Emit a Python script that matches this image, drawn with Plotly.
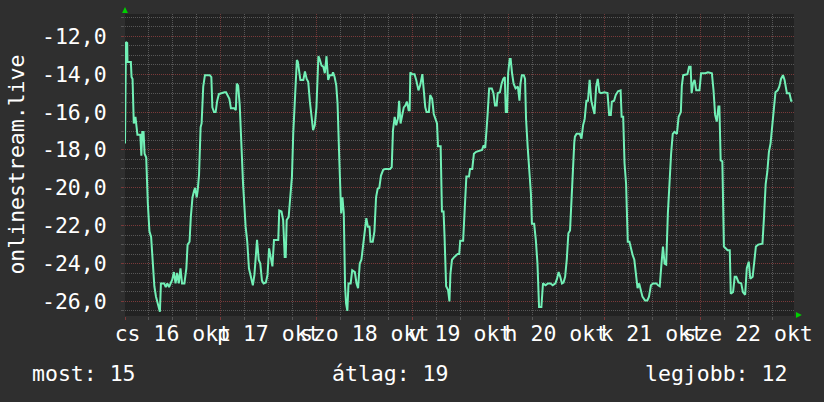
import plotly.graph_objects as go

# ---------------- data ----------------
# hours since 2025-10-16 00:00
hours = [
    0.00, 0.24, 0.55, 0.62, 1.47, 1.64, 1.89, 2.20, 2.62, 2.87, 3.11, 3.84, 4.09, 4.33, 4.65, 4.90,
    5.31, 5.71, 6.12, 6.54, 6.93, 7.35, 7.76, 8.33, 8.74, 8.99, 9.80, 10.21, 10.60, 11.02, 11.44, 11.83,
    12.24, 12.66, 13.05, 13.47, 13.89, 14.28, 14.87, 15.36, 15.67, 16.16, 16.48, 16.90, 17.31, 17.56,
    17.95, 18.20, 18.54, 18.93, 19.18, 19.59, 20.01, 21.23, 21.62, 21.87, 22.29, 22.70, 23.09, 23.51,
    24.91, 25.30, 26.13, 26.52, 27.36, 27.75, 27.99, 28.33, 28.73, 29.14, 29.56, 30.20, 30.61, 31.03,
    31.59, 32.01, 32.40, 32.82, 33.06, 33.48, 33.87, 34.29, 34.70, 35.27, 35.68, 36.07, 36.49, 36.91,
    37.30, 38.38, 38.62, 39.18, 39.60, 39.99, 40.24, 40.48, 40.97, 41.39, 41.80, 42.12, 42.61, 43.03,
    43.27, 43.52, 43.91, 44.65, 45.06, 45.48, 45.87, 46.29, 46.70, 47.09, 47.51, 47.93,
    48.42, 48.73, 49.22, 49.64, 50.03, 50.45, 50.62, 50.87, 51.26, 51.85, 52.09, 52.48, 52.90, 53.22,
    53.63, 54.05, 54.12, 54.44, 54.78, 55.10, 55.35, 55.67, 55.96, 56.50, 56.89, 57.55, 57.97, 58.36,
    58.78, 59.19, 59.58, 60.00, 60.42, 60.81, 61.22, 61.47, 62.03, 62.45, 62.86, 63.26, 63.67, 64.09,
    64.65, 65.14, 66.37, 66.78, 67.10, 67.52, 67.91, 68.33, 68.64, 68.99, 69.38, 69.80, 70.21, 70.60,
    71.02, 71.27, 71.44, 71.83,
    72.49, 72.91, 73.47, 73.89, 74.45, 74.77, 75.18, 75.50, 76.09, 76.41, 76.90, 77.31, 77.71, 78.12,
    78.37, 79.03, 79.35, 79.76, 80.01, 80.40, 80.89, 81.23, 81.48, 81.87, 82.46, 82.85, 83.27, 83.68,
    83.93, 84.66, 84.91, 85.47, 86.13, 86.38, 86.94, 87.36, 87.92, 89.39, 89.80, 90.19, 90.78, 91.17,
    91.84, 92.25, 92.64, 93.06, 93.31, 93.87, 94.29, 94.70, 95.09, 95.34, 95.68, 95.93,
    96.32, 96.56, 96.91, 97.30, 97.79, 98.37, 98.77, 99.01, 99.36, 99.85, 100.16, 100.41, 100.82,
    101.22, 101.63, 101.88, 102.44, 102.86, 103.27, 103.67, 104.25, 104.65, 105.31, 105.87, 106.53,
    107.09, 107.76, 108.17, 108.57, 108.98, 109.40, 109.79, 110.20, 110.62, 111.01, 111.43, 111.84,
    112.17, 112.49, 112.65, 113.07, 113.88, 114.29, 114.69, 115.10, 115.52, 115.91, 116.33, 116.74,
    117.13, 117.55, 117.97, 118.36, 118.78, 119.19,
    120.00, 120.81, 121.22, 121.64, 121.89, 122.45, 122.86, 123.43, 124.09, 124.34, 124.73, 125.07,
    125.46, 125.88, 126.29, 126.69, 127.10, 127.52, 127.91, 128.33, 128.74, 129.14, 129.55, 130.21,
    130.78, 131.19, 131.68, 132.24, 133.05, 133.47, 133.88, 134.27, 134.69, 135.10, 135.50, 135.92,
    136.33, 136.73, 137.14, 137.56, 138.19, 138.61, 139.17, 139.42, 139.76, 140.82, 141.23, 141.62,
    141.87, 142.21, 142.60, 143.02, 143.83,
    144.24, 145.30, 145.96, 146.94, 147.35, 147.75, 148.16, 148.58, 148.82, 149.14, 149.56, 149.95,
    150.44, 150.86, 151.42, 151.67, 152.25, 152.65, 153.06, 153.63, 154.29, 154.70, 155.27, 155.68,
    156.17, 156.56, 157.15, 157.54, 157.96, 158.52, 159.60, 159.99, 160.41, 160.82, 161.22, 161.63,
    162.05, 162.44, 162.86, 163.42, 163.84, 164.25, 164.74, 165.14, 165.72, 166.36, 166.78, 167.10,
]
values = [
    -17.66, -12.30, -12.35, -13.35, -13.35, -14.15, -14.25, -16.60, -16.25, -16.60, -17.20, -17.20, -18.30, -17.05, -17.05, -18.20,
    -18.40, -20.80, -22.30, -22.60, -24.00, -25.20, -25.75, -26.20, -26.55, -25.05, -25.05, -25.25, -25.05, -25.25, -25.05, -24.85,
    -24.45, -25.05, -24.50, -25.05, -24.25, -25.05, -25.05, -24.25, -23.00, -22.85, -21.55, -20.50, -20.15, -20.00,
    -20.50, -20.15, -19.30, -16.80, -16.60, -14.65, -14.05, -14.05, -14.15, -15.75, -16.00, -16.00, -15.40, -15.05,
    -14.95, -14.95, -15.30, -15.80, -15.80, -15.90, -14.50, -14.60, -15.65, -17.85, -19.80, -22.05, -22.85, -24.25,
    -24.70, -25.15, -24.60, -23.30, -22.75, -23.80, -24.00, -24.90, -25.05, -25.00, -24.60, -23.20, -23.75, -24.15,
    -22.75, -22.75, -21.20, -21.25, -21.70, -23.65, -23.65, -21.70, -21.55, -20.20, -19.40, -17.15, -15.20, -13.25,
    -13.35, -13.70, -14.30, -14.30, -13.85, -14.25, -14.40, -15.45, -16.35, -16.95, -16.70, -15.75,
    -13.05, -13.20, -13.55, -13.60, -13.95, -13.05, -13.60, -14.30, -14.05, -14.05, -13.90, -14.15, -14.60, -15.55,
    -18.35, -20.50, -21.35, -20.50, -21.35, -25.20, -26.10, -26.50, -25.05, -25.05, -24.35, -24.45, -25.05, -25.30,
    -24.00, -23.80, -23.05, -22.05, -21.60, -22.05, -22.05, -22.85, -22.85, -22.30, -20.50, -20.05, -20.00, -19.35,
    -19.05, -19.00, -19.00, -18.90, -16.95, -16.25, -16.70, -16.35, -15.40, -16.60, -16.25, -15.75, -15.65, -15.45,
    -15.90, -15.90, -13.90, -14.00,
    -14.00, -14.30, -14.85, -14.60, -14.00, -14.85, -15.75, -16.00, -16.00, -15.10, -15.30, -16.10, -16.35, -16.60,
    -17.80, -17.80, -21.25, -21.25, -22.60, -25.20, -25.40, -26.00, -24.55, -23.80, -23.65, -23.55, -23.50, -23.50,
    -22.80, -22.80, -21.80, -19.40, -19.40, -19.00, -19.00, -18.20, -18.10, -18.00, -17.75, -17.90, -16.15, -14.75,
    -14.75, -15.00, -15.65, -15.65, -15.00, -14.95, -14.50, -14.25, -14.15, -16.00, -16.00, -13.95,
    -13.20, -13.20, -13.95, -14.50, -14.75, -14.65, -15.40, -14.50, -14.05, -14.05, -14.25, -16.35, -17.85,
    -19.05, -20.30, -21.90, -21.90, -22.75, -24.00, -26.30, -26.30, -25.05, -25.15, -25.05, -25.05,
    -25.15, -25.05, -24.80, -24.45, -24.70, -25.05, -25.00, -24.70, -23.75, -22.40, -22.25, -20.75,
    -19.00, -17.60, -17.30, -17.15, -17.15, -17.40, -16.70, -16.35, -15.40, -15.40, -14.30, -15.40,
    -15.75, -16.10, -14.65, -14.25, -14.95, -15.00,
    -14.95, -15.00, -16.15, -16.15, -15.45, -15.40, -15.10, -14.90, -14.85, -16.25, -16.25, -18.70,
    -19.80, -22.85, -22.85, -23.30, -23.55, -23.80, -24.70, -25.30, -25.05, -25.40, -25.75, -25.95,
    -25.95, -25.75, -25.15, -25.05, -25.05, -25.15, -25.20, -24.15, -23.10, -24.00, -24.05, -21.35,
    -19.60, -18.20, -17.15, -17.05, -17.15, -16.25, -16.00, -14.60, -14.05, -14.00, -13.60, -13.60,
    -15.00, -14.50, -14.30, -14.85, -14.85,
    -13.95, -13.95, -13.90, -13.95, -14.85, -16.15, -16.50, -15.70, -15.70, -18.55, -18.60, -23.10,
    -23.20, -23.30, -23.30, -25.60, -25.50, -24.70, -24.70, -25.00, -25.05, -25.50, -25.65, -24.25,
    -23.90, -24.80, -24.70, -24.00, -23.10, -23.00, -22.95, -21.55, -19.80, -19.15, -18.10, -17.65,
    -16.70, -16.15, -14.95, -14.85, -14.65, -14.25, -14.05, -14.30, -15.00, -15.00, -15.40, -15.40,
]

day_labels = ["cs 16 okt", "p 17 okt", "szo 18 okt", "v 19 okt", "h 20 okt", "k 21 okt", "sze 22 okt"]
day_label_pos = [12, 36, 60, 84, 108, 132, 156]
y_tick_vals = [-26, -24, -22, -20, -18, -16, -14, -12]
y_tick_text = ["-26,0", "-24,0", "-22,0", "-20,0", "-18,0", "-16,0", "-14,0", "-12,0"]
y_title = "onlinestream.live"
legend_items = ["most: 15", "átlag: 19", "legjobb: 12"]

# ---------------- style ----------------
FONT = "DejaVu Sans Mono"
FS = 21.5
BG = "#2f2f2f"
PLOT_BG = "#222222"
LINE = "#72f0b6"
MAJOR = "#7a3a3a"
MAJOR_X = "#703838"
MINOR = "#575757"
X_RANGE = [0, 167.5]
Y_RANGE = [-26.77, -10.82]

fig = go.Figure()
fig.add_trace(go.Scatter(x=hours, y=values, mode="lines",
                         line=dict(color=LINE, width=2), hoverinfo="skip",
                         showlegend=False))
# helper trace so that the label axis is drawn
fig.add_trace(go.Scatter(x=[None], y=[None], xaxis="x2", yaxis="y",
                         showlegend=False, hoverinfo="skip"))

fig.update_layout(
    width=824, height=402,
    paper_bgcolor=BG, plot_bgcolor=PLOT_BG,
    margin=dict(l=125, r=15, t=14, b=86),
    font=dict(family=FONT, size=FS, color="#ffffff"),
    showlegend=False,
    xaxis=dict(
        range=X_RANGE, tickmode="linear", tick0=0, dtick=24,
        showgrid=True, gridcolor=MAJOR_X, gridwidth=1, griddash="1px,1px",
        showticklabels=False, ticks="outside", ticklen=3, tickcolor=MAJOR,
        zeroline=False, showline=False,
        minor=dict(tickmode="linear", tick0=6, dtick=6, showgrid=True,
                   gridcolor=MINOR, gridwidth=1, griddash="1px,1px",
                   ticks="outside", ticklen=3, tickcolor=MINOR),
    ),
    xaxis2=dict(
        range=X_RANGE, overlaying="x", anchor="y", side="bottom",
        tickmode="array", tickvals=day_label_pos, ticktext=day_labels,
        tickangle=0, showgrid=False, zeroline=False, showline=False,
        ticks="", ticklabelstandoff=2, ticklabeloverflow="allow",
        tickfont=dict(family=FONT, size=FS, color="#ffffff"),
    ),
    yaxis=dict(
        range=Y_RANGE, tickmode="array", tickvals=y_tick_vals, ticktext=y_tick_text,
        showgrid=True, gridcolor=MAJOR, gridwidth=1, griddash="1px,1px",
        ticks="outside", ticklen=3, tickcolor=MAJOR, ticklabelstandoff=10,
        zeroline=False, showline=False,
        tickfont=dict(family=FONT, size=FS, color="#ffffff"),
        minor=dict(tickmode="linear", tick0=0, dtick=0.5, showgrid=True,
                   gridcolor=MINOR, gridwidth=1, griddash="1px,1px",
                   ticks="outside", ticklen=3, tickcolor=MINOR),
    ),
)

# axis title (rotated)
fig.add_annotation(text=y_title, xref="paper", yref="paper", x=-0.1635, y=0.5,
                   xanchor="center", yanchor="middle", textangle=-90, showarrow=False,
                   font=dict(family=FONT, size=FS, color="#ffffff"))

# summary line at the bottom
legend_x = [-0.1420, 0.3060, 0.7740]
for txt, lx in zip(legend_items, legend_x):
    fig.add_annotation(text=txt, xref="paper", yref="paper", x=lx, y=-0.192,
                       xanchor="left", yanchor="middle", showarrow=False,
                       font=dict(family=FONT, size=FS, color="#ffffff"))

# green axis arrows
fig.add_shape(type="path", xref="paper", yref="paper",
              path="M -0.0044,1.0033 L 0.0044,1.0033 L 0,1.0232 Z",
              fillcolor="#00d000", line=dict(width=0))
fig.add_shape(type="path", xref="paper", yref="paper",
              path="M 1.0029,0.0132 L 1.0029,-0.0066 L 1.0117,0.0033 Z",
              fillcolor="#00d000", line=dict(width=0))

fig.write_html("out.html", config={"displayModeBar": False},
               post_script="document.body.style.margin='0';document.body.style.background='#2f2f2f';")
